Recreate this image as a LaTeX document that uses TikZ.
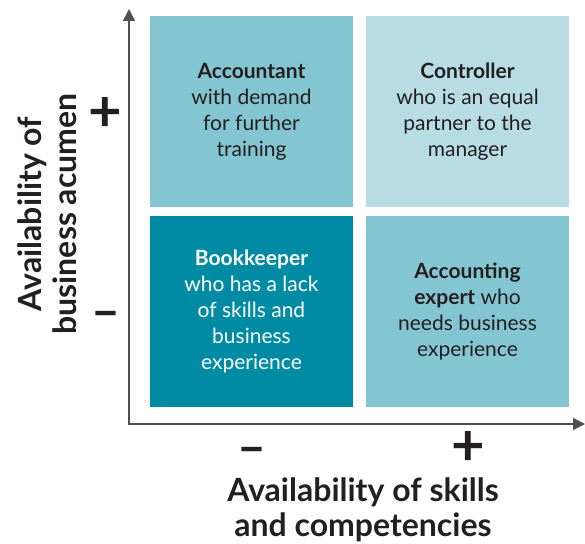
\documentclass[tikz,border=0pt]{standalone}
\usepackage{fontspec}
\setmainfont{Lato}
\usetikzlibrary{arrows.meta}
\definecolor{midteal}{HTML}{84C5D2}
\definecolor{paleteal}{HTML}{B8DCE3}
\definecolor{darkteal}{HTML}{008BA5}
\definecolor{ink}{HTML}{231F20}
\definecolor{axisgray}{HTML}{505050}
\begin{document}
\begin{tikzpicture}[x=1pt,y=-1pt,
  box/.style={draw=none, minimum width=203pt, minimum height=191pt, inner sep=0pt,
    align=center, font=\fontsize{21}{26}\selectfont, text=ink},
  axlabel/.style={align=center, font=\fontsize{32}{35}\selectfont\bfseries, text=ink},
  plussign/.style={font=\fontsize{58}{58}\selectfont\bfseries, text=ink, inner sep=0pt},
  minussign/.style={font=\fontsize{50}{50}\selectfont\bfseries, text=ink, inner sep=0pt},
  axis/.style={draw=axisgray, line width=1.5pt, line join=miter,
    {Triangle[length=12pt,width=12pt]}-{Triangle[length=12pt,width=12pt]}}]
\useasboundingbox (0,0) rectangle (585,543);

\node[box, fill=midteal] (acc) at (251.5,111.5)
  {\textbf{Accountant}\\with demand\\for further\\training};
\node[box, fill=paleteal] (ctrl) at (467.5,111.5)
  {\textbf{Controller}\\who is an equal\\partner to the\\manager};
\node[box, fill=darkteal, text=white] (book) at (251.5,311.5)
  {\textbf{Bookkeeper}\\who has a lack\\of skills and\\business\\experience};
\node[box, fill=midteal] (expert) at (467.5,311.5)
  {\textbf{Accounting}\\\textbf{expert} who\\needs business\\experience};

\coordinate (ytop) at (129,9);
\coordinate (origin) at (129,424);
\coordinate (xend) at (585,424);
\draw[axis] (ytop) -- (origin) -- (xend);

\node[axlabel, rotate=90] (ylab) at (47,214) {Availability of\\business acumen};
\node[axlabel] (xlab) at (363,510) {Availability of skills\\and competencies};

\node[plussign] (yplus) at (105,114.5) {+};
\node[minussign] (yminus) at (106,320) {–};
\node[minussign] (xminus) at (252,456) {–};
\node[plussign] (xplus) at (468,448) {+};
\end{tikzpicture}
\end{document}
